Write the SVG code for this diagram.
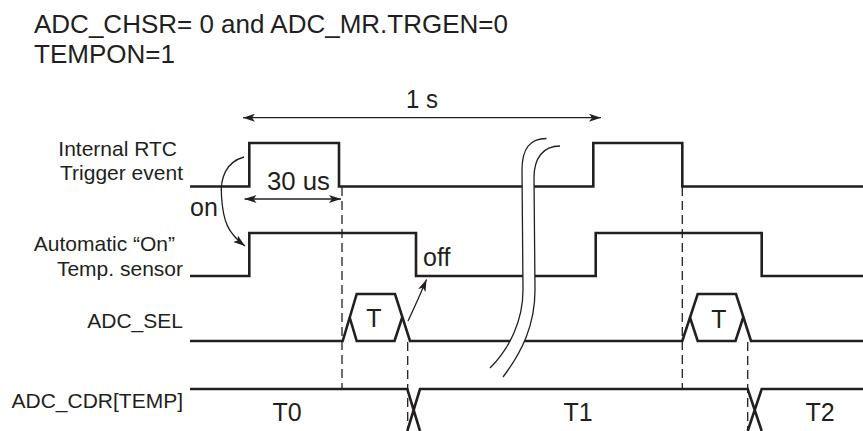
<svg xmlns="http://www.w3.org/2000/svg" width="863" height="431" viewBox="0 0 863 431">
<style>
text{font-family:"Liberation Sans",Arial,Helvetica,sans-serif;fill:#231f20}
.big{font-size:25px}
.lbl{font-size:21px;text-anchor:end}
.ttl{font-size:26px}
.sig{fill:none;stroke:#231f20;stroke-width:2.6;stroke-linejoin:miter}
.dash{fill:none;stroke:#231f20;stroke-width:1.3;stroke-dasharray:9 5}
.thin{fill:none;stroke:#231f20;stroke-width:1.3}
.mid{text-anchor:middle}
</style>
<defs>
<marker id="ah" viewBox="0 0 12 8" refX="12" refY="4" markerWidth="12" markerHeight="8" markerUnits="userSpaceOnUse" orient="auto-start-reverse">
<path d="M0,0 L12,4 L0,8 L3,4 z" fill="#231f20"/>
</marker>
</defs>
<rect width="863" height="431" fill="#fff"/>

<g id="title">
<text class="ttl" x="34" y="33">ADC_CHSR= 0 and ADC_MR.TRGEN=0</text>
<text class="ttl" x="34" y="63">TEMPON=1</text>
</g>

<g id="labels">
<text class="lbl" x="177" y="156">Internal RTC</text>
<text class="lbl" x="183" y="180">Trigger event</text>
<text class="lbl" x="175" y="251">Automatic “On”</text>
<text class="lbl" x="183" y="276">Temp. sensor</text>
<text class="lbl" x="183" y="328">ADC_SEL</text>
<text class="lbl" x="183" y="408">ADC_CDR[TEMP]</text>
</g>

<g id="sig-trigger">
<path class="sig" d="M190,186.5 H249.3 V143 H339 V186.5 H593.3 V143 H682.3 V186.5 H863"/>
</g>

<g id="sig-temp">
<path class="sig" d="M190,276 H249.3 V233 H416 V276 H595.7 V233 H761.7 V276 H863"/>
</g>

<g id="sig-adcsel">
<path class="sig" d="M190,341 H342.7 L356.7,294 H395 L410,341 H682.3 L697.7,294 H736 L751,341 H863"/>
<path class="sig" d="M349.7,317.5 L356.7,341 H394.5 L402.2,317.5"/>
<path class="sig" d="M690,317.5 L697.7,341 H735.5 L743.2,317.5"/>
<text class="big mid" x="374" y="327">T</text>
<text class="big mid" x="719" y="328">T</text>
</g>

<g id="sig-cdr">
<path class="sig" d="M190,389 H407.3 L420,431 M407.3,431 L420,389 H747.7 L761.7,431 M747.7,431 L761.7,389 H863"/>
<text class="big mid" x="287" y="421">T0</text>
<text class="big mid" x="578" y="421">T1</text>
<text class="big mid" x="820" y="421">T2</text>
</g>

<g id="connectors">
<path class="dash" d="M342,187 V389 M682.3,187 V389 M407.7,342 V431 M747.7,342 V431"/>
<path class="thin" d="M243,117.7 H601" marker-start="url(#ah)" marker-end="url(#ah)"/>
<path class="thin" d="M244.5,199 H341" marker-start="url(#ah)" marker-end="url(#ah)"/>
<path class="thin" d="M244,157 C226,162 220,178 221.5,196 C223,222 228,233 245,246" marker-end="url(#ah)"/>
<path class="thin" d="M408,321 Q417,302 426.5,279.5" marker-end="url(#ah)"/>
</g>

<g id="break">
<path d="M546.5,138.5 C530,138.5 522,148 522,170 L523,290 C523,320 510,348 490,368 L503,377 C522,352 535,325 535,290 L534,178 C534,158 543,146 560,146 Z" fill="#fff" stroke="none"/>
<path class="thin" d="M546.5,138.5 C530,138.5 522,148 522,170 L523,290 C523,320 510,348 490,368"/>
<path class="thin" d="M560,146 C543,146 534,158 534,178 L535,290 C535,325 522,352 503,377"/>
</g>

<g id="annotations">
<text class="big" x="406" y="108" textLength="32" lengthAdjust="spacingAndGlyphs">1 s</text>
<text class="big" x="267" y="190" textLength="63" lengthAdjust="spacingAndGlyphs">30 us</text>
<text class="big" x="190" y="216">on</text>
<text class="big" x="423" y="266">off</text>
</g>
</svg>
